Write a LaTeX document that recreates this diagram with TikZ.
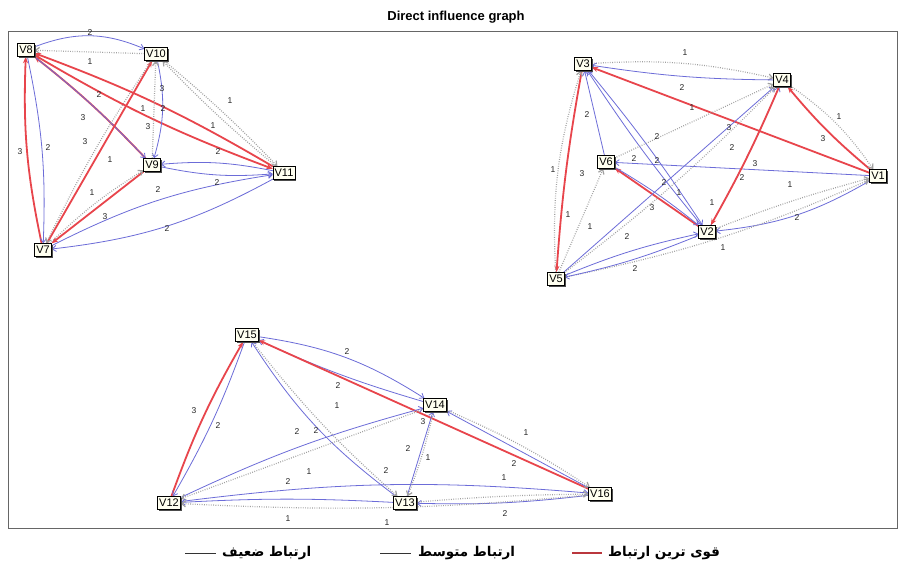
\documentclass[tikz,border=0pt]{standalone}
\usepackage{fontspec}
\setmainfont{Liberation Sans}
\newfontfamily\arabicfont[Script=Arabic]{DejaVu Sans}
\TeXXeTstate=1
\usetikzlibrary{arrows.meta,shadows}
\pgfdeclarelayer{bglayer}
\pgfdeclarelayer{edgelayer}
\pgfsetlayers{bglayer,edgelayer,main}
\definecolor{strongc}{HTML}{E8454C}
\definecolor{medc}{HTML}{6C6CD8}
\definecolor{weakc}{HTML}{A0A0A0}
\definecolor{nodefill}{HTML}{FFFFF0}
\tikzset{
 vbox/.style={draw=black, fill=nodefill, line width=0.6pt, inner xsep=1.5pt, inner ysep=2.2pt,
   text height=8pt, text depth=0.5pt, font=\fontsize{11}{11}\selectfont,
   drop shadow={shadow xshift=1.3pt, shadow yshift=-1.3pt, fill=black!70, opacity=1}},
 strongedge/.style={draw=strongc, line width=1.8pt, -{Stealth[length=6.5pt,width=5pt]}},
 mededge/.style={draw=medc, line width=0.8pt, -{Straight Barb[length=4pt,width=6pt]}},
 weakedge/.style={draw=weakc, line width=1.2pt, dash pattern=on 0.8pt off 1.5pt, -{Straight Barb[length=4pt,width=6pt]}},
 lbl/.style={font=\fontsize{8.5}{8.5}\selectfont, text=black!85, inner sep=0pt},
 legtext/.style={font=\arabicfont\bfseries\fontsize{13.5}{13.5}\selectfont, anchor=west, inner sep=0pt},
}
\begin{document}
\begin{tikzpicture}
\useasboundingbox (0,0) rectangle (900pt,-568pt);
\begin{scope}[x=1pt,y=1pt]
\begin{pgfonlayer}{bglayer}
\fill[white] (0,0) rectangle (900,-568);
\draw[black!60, line width=0.8pt] (8,-31) rectangle (897,-528);
\end{pgfonlayer}
\node[font=\bfseries\fontsize{13}{13}\selectfont] (title) at (456,-17) {Direct influence graph};
% cluster 1
\node[vbox] (V8) at (26,-50) {V8};
\node[vbox] (V10) at (156,-54) {V10};
\node[vbox] (V9) at (152,-165) {V9};
\node[vbox] (V11) at (284,-173) {V11};
\node[vbox] (V7) at (43,-250) {V7};
% cluster 2
\node[vbox] (V3) at (583,-64) {V3};
\node[vbox] (V4) at (782,-80) {V4};
\node[vbox] (V6) at (606,-162) {V6};
\node[vbox] (V1) at (878,-176) {V1};
\node[vbox] (V2) at (707,-232) {V2};
\node[vbox] (V5) at (556,-279) {V5};
% cluster 3
\node[vbox] (V15) at (247,-335) {V15};
\node[vbox] (V14) at (435,-405) {V14};
\node[vbox] (V12) at (169,-503) {V12};
\node[vbox] (V13) at (405,-503) {V13};
\node[vbox] (V16) at (600,-494) {V16};
\begin{pgfonlayer}{edgelayer}
% cluster 1
\draw[mededge] (V8) to[bend left=22] (V10);
\draw[weakedge] (V10) to (V8);
\draw[strongedge] (V7) to[bend left=7] (V8);
\draw[mededge] (V8) to[bend left=7] (V7);
\draw[strongedge] (V9) to[bend right=4] (V8);
\draw[mededge] (V8) to[bend left=4] (V9);
\draw[strongedge] (V7) to (V10);
\draw[weakedge] (V10) to[bend right=4] (V7);
\draw[strongedge] (V9) to (V7);
\draw[weakedge] (V7) to[bend left=6] (V9);
\draw[strongedge] (V8) to[bend right=5] (V11);
\draw[strongedge] (V11) to[bend right=5] (V8);
\draw[weakedge] (V10) to[bend left=3] (V11);
\draw[weakedge] (V11) to[bend left=3] (V10);
\draw[mededge] (V10) to[bend left=14] (V9);
\draw[weakedge] (V9) to (V10);
\draw[mededge] (V11) to[bend right=8] (V9);
\draw[mededge] (V9) to[bend right=8] (V11);
\draw[mededge] (V7) to[bend left=9] (V11);
\draw[mededge] (V11) to[bend left=11] (V7);
% cluster 2
\draw[weakedge] (V3) to[bend left=8] (V4);
\draw[mededge] (V4) to[bend left=4] (V3);
\draw[strongedge] (V1) to (V3);
\draw[strongedge] (V1) to[bend left=5] (V4);
\draw[weakedge] (V4) to[bend left=10] (V1);
\draw[mededge] (V1) to (V6);
\draw[weakedge] (V5) to (V6);
\draw[strongedge] (V3) to[bend right=3] (V5);
\draw[weakedge] (V5) to[bend left=10] (V3);
\draw[mededge] (V6) to (V3);
\draw[mededge] (V2) to[bend left=3] (V3);
\draw[mededge] (V3) to[bend left=3] (V2);
\draw[strongedge] (V2) to (V6);
\draw[mededge] (V6) to[bend left=4] (V2);
\draw[mededge] (V5) to (V4);
\draw[weakedge] (V5) to[bend right=4] (V4);
\draw[weakedge] (V6) to (V4);
\draw[mededge] (V2) to[bend right=3] (V4);
\draw[strongedge] (V4) to[bend left=3] (V2);
\draw[mededge] (V1) to[bend left=12] (V2);
\draw[weakedge] (V2) to[bend left=3] (V1);
\draw[weakedge] (V5) to[bend right=6] (V1);
\draw[mededge] (V5) to[bend left=5] (V2);
\draw[mededge] (V2) to[bend left=5] (V5);
% cluster 3
\draw[mededge] (V15) to[bend left=12] (V14);
\draw[mededge] (V14) to[bend left=4] (V15);
\draw[strongedge] (V16) to (V15);
\draw[strongedge] (V12) to[bend left=5] (V15);
\draw[mededge] (V15) to[bend left=5] (V12);
\draw[mededge] (V13) to[bend left=10] (V15);
\draw[weakedge] (V15) to[bend right=5] (V13);
\draw[mededge] (V12) to[bend left=5] (V14);
\draw[weakedge] (V14) to (V12);
\draw[mededge] (V12) to[bend left=6] (V16);
\draw[mededge] (V13) to[bend right=3] (V12);
\draw[mededge] (V16) to[bend left=4] (V13);
\draw[weakedge] (V16) to[bend left=4] (V12);
\draw[weakedge] (V13) to[bend left=2] (V16);
\draw[mededge] (V13) to (V14);
\draw[weakedge] (V14) to[bend left=4] (V13);
\draw[mededge] (V16) to (V14);
\draw[weakedge] (V14) to[bend left=5] (V16);
\end{pgfonlayer}
% edge labels
\foreach \x/\y/\t [count=\i] in {
 90/33/2, 90/62/1, 99/95/2, 143/109/1, 163/109/2, 162/89/3, 148/127/3, 83/118/3,
 85/142/3, 110/160/1, 230/101/1, 213/126/1, 218/152/2, 20/152/3, 48/148/2, 92/193/1,
 158/190/2, 217/183/2, 105/217/3, 167/229/2,
 685/53/1, 682/88/2, 692/108/1, 587/115/2, 657/137/2, 729/128/3, 732/148/2, 839/117/1,
 823/139/3, 634/159/2, 657/161/2, 755/164/3, 553/170/1, 582/174/3, 664/183/2, 679/193/1,
 742/178/2, 790/185/1, 712/203/1, 652/208/3, 568/215/1, 590/227/1, 627/237/2, 797/218/2,
 723/248/1, 635/269/2,
 347/352/2, 338/386/2, 337/406/1, 194/411/3, 218/426/2, 423/422/3, 297/432/2, 316/431/2,
 309/472/1, 288/482/2, 386/471/2, 408/449/2, 428/458/1, 288/519/1, 387/523/1, 526/433/1,
 514/464/2, 504/478/1, 505/514/2}
 \node[lbl] (lab\i) at (\x,-\y) {\t};
% legend
\coordinate (la1) at (185,-553); \coordinate (lb1) at (216,-553);
\coordinate (la2) at (380,-553); \coordinate (lb2) at (411,-553);
\coordinate (la3) at (572,-553); \coordinate (lb3) at (602,-553);
\draw[black!80, line width=1pt] (la1) -- (lb1);
\draw[black!80, line width=1pt] (la2) -- (lb2);
\draw[strongc!80!black, line width=1.3pt] (la3) -- (lb3);
\node[legtext] (leg1) at (222,-553) {\beginR ارتباط ضعیف\endR};
\node[legtext] (leg2) at (418,-553) {\beginR ارتباط متوسط\endR};
\node[legtext] (leg3) at (608,-553) {\beginR قوی ترین ارتباط\endR};
\end{scope}
\end{tikzpicture}
\end{document}
